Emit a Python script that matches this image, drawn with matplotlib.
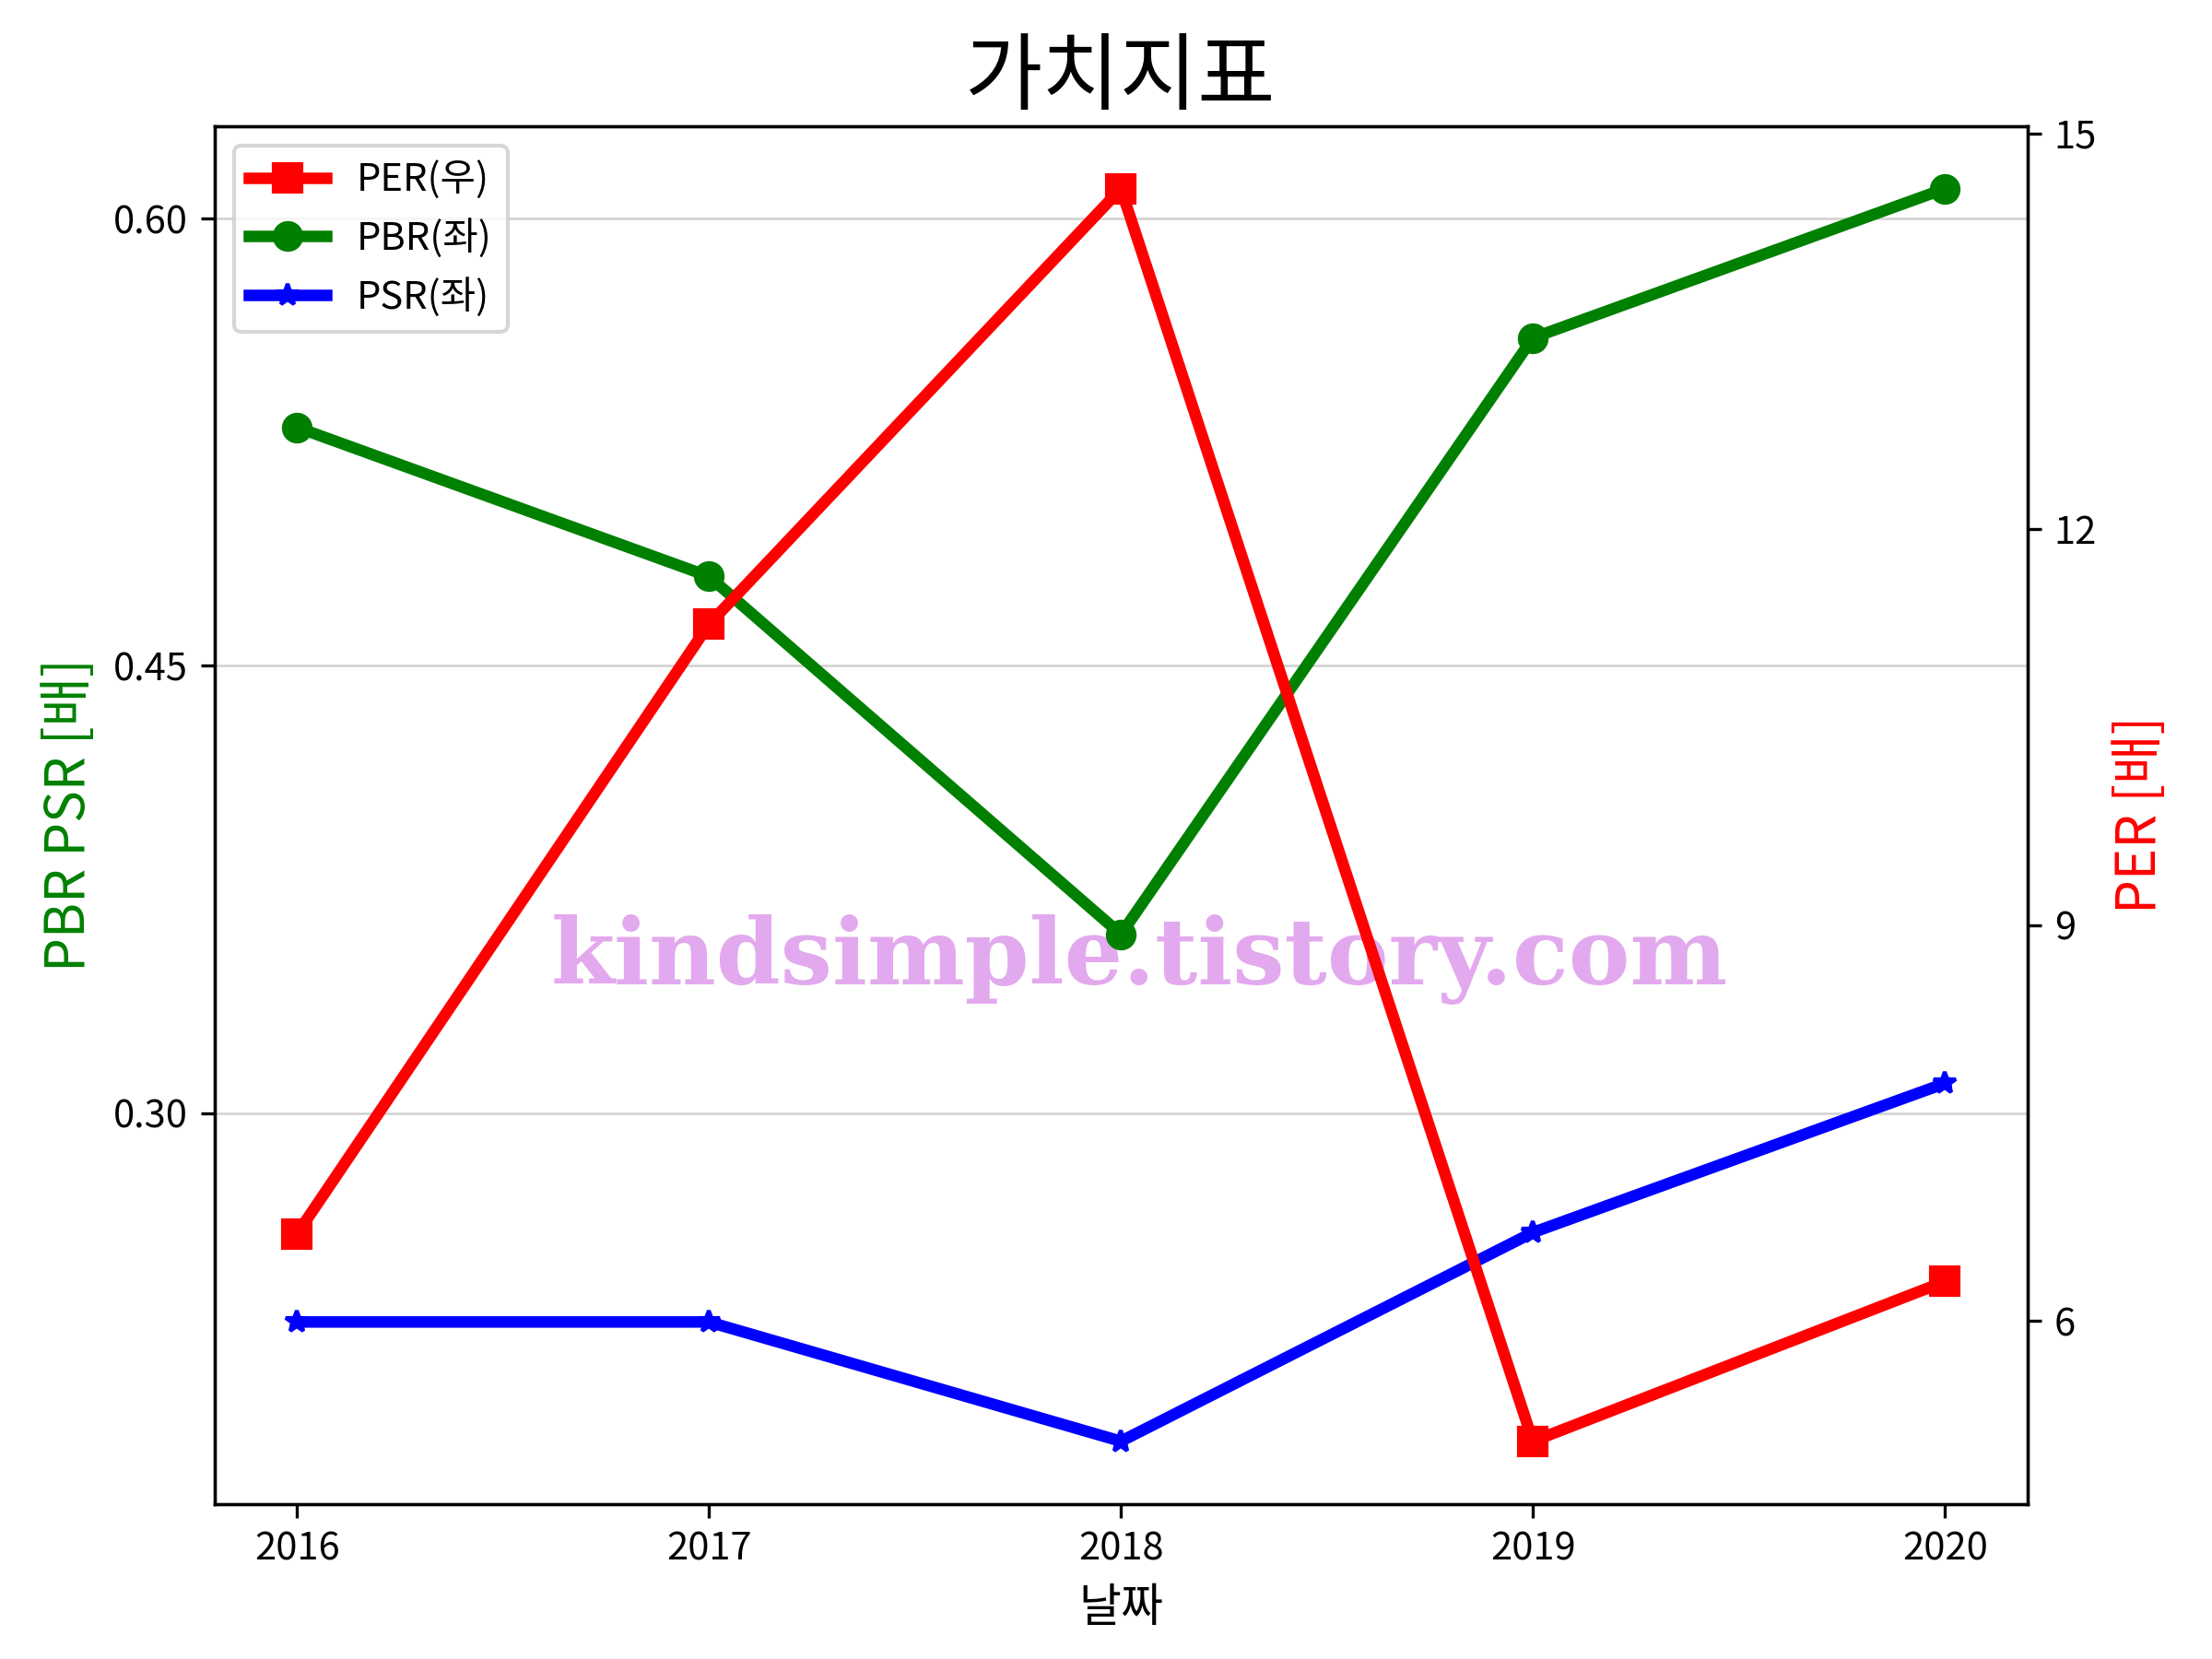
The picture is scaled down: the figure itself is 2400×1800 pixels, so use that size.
import numpy as np
import matplotlib
matplotlib.use("Agg")
import matplotlib.pyplot as plt
from matplotlib.ticker import FormatStrFormatter

plt.rcParams['font.family'] = ['Noto Sans CJK KR', 'DejaVu Sans']
plt.rcParams['axes.unicode_minus'] = False

# 값
years = ['2016', '2017', '2018', '2019', '2020']
per = [6.66, 11.28, 14.58, 5.09, 6.30]
pbr = [0.530, 0.480, 0.360, 0.560, 0.610]
psr = [0.230, 0.230, 0.190, 0.260, 0.310]
left_ticks = [0.30, 0.45, 0.60]
right_ticks = [6, 9, 12, 15]

fig = plt.figure(figsize=(8, 6), dpi=300)
ax1 = fig.add_axes([0.097, 0.0935, 0.8195, 0.8305])
ax2 = ax1.twinx()

x = np.arange(len(years))

l2, = ax1.plot(x, pbr, color='green', marker='o', lw=3, ms=7, label='PBR(좌)')
l3, = ax1.plot(x, psr, color='blue', marker='*', lw=3, ms=6, label='PSR(좌)')
l1, = ax2.plot(x, per, color='red', marker='s', lw=3, ms=7, label='PER(우)')

ax1.set_xticks(x)
ax1.set_xticklabels(years)
ax1.set_yticks(left_ticks)
ax1.yaxis.set_major_formatter(FormatStrFormatter('%.2f'))
ax2.set_yticks(right_ticks)
ax1.grid(axis='y', color='#d0d0d0', lw=0.6)
ax1.set_axisbelow(True)

ax1.set_xlabel('날짜', fontsize=12)
ax1.set_ylabel('PBR PSR [배]', color='green', fontsize=14)
ax2.set_ylabel('PER [배]', color='red', fontsize=14)
ax1.set_title('가치지표', fontsize=22)

# 워터마크
ax1.text(0.51, 0.395, 'kindsimple.tistory.com', transform=ax1.transAxes,
         ha='center', va='center', fontsize=24, fontweight='heavy',
         family='DejaVu Serif', color='#e3a9ee', zorder=0.5)

ax2.legend(handles=[l1, l2, l3], loc='upper left', fontsize=10)

plt.savefig('out.png', dpi=300)
